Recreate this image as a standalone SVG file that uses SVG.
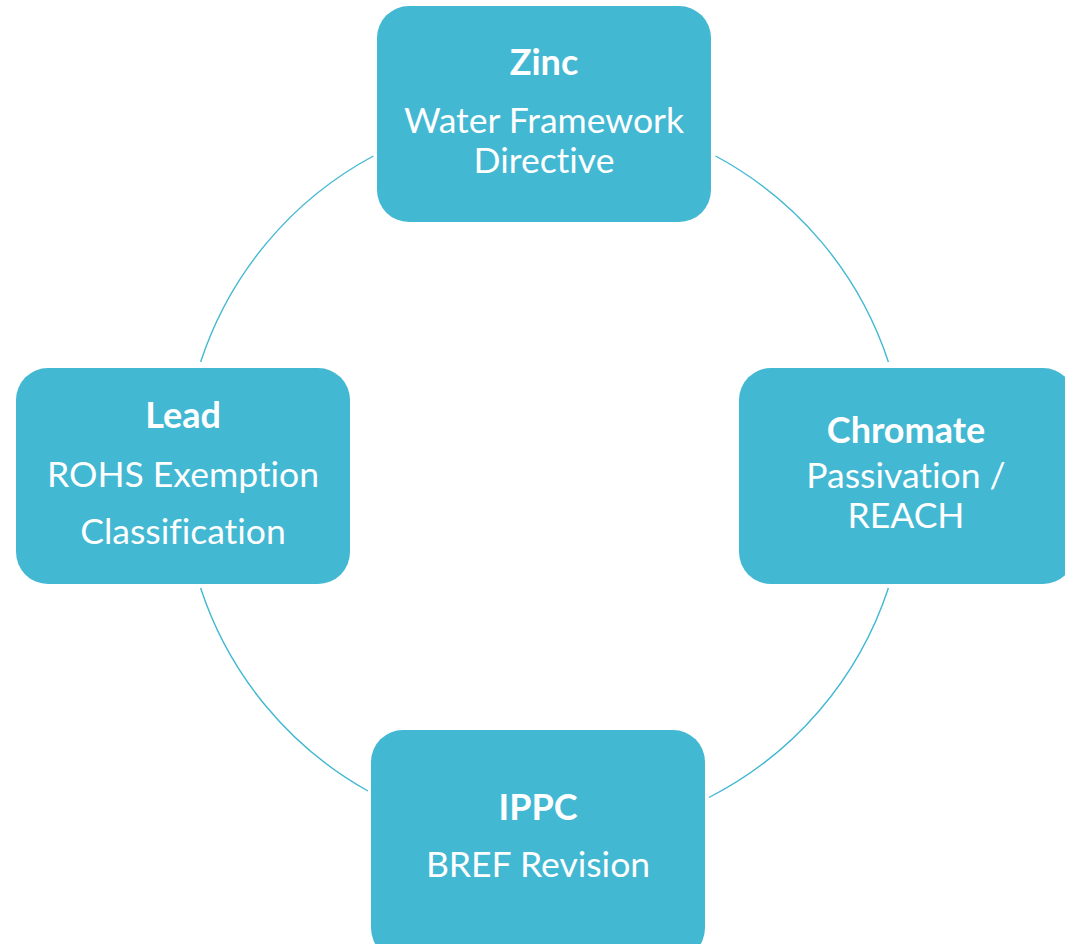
<svg xmlns="http://www.w3.org/2000/svg" width="1065" height="944" viewBox="0 0 1065 944">
<style>
.box{fill:#42B8D3}
.arc{fill:none;stroke:#42B8D3;stroke-width:1.4}
text{font-family:"Lato","Open Sans",sans-serif;fill:#FFFFFF;text-anchor:middle;font-variant-ligatures:none}
.t{font-weight:bold;font-size:36px}
.s{font-size:35.5px}
</style>
<rect width="1065" height="944" fill="#FFFFFF"/>
<g id="connectors">
<path class="arc" d="M715.6,156 A362,362 0 0 1 888.4,362"/>
<path class="arc" d="M888.4,588 A362,362 0 0 1 709,797.5"/>
<path class="arc" d="M368,791 A362,362 0 0 1 200.6,588"/>
<path class="arc" d="M200.6,362 A362,362 0 0 1 373.4,156"/>
</g>
<g id="zinc">
<rect class="box" x="377" y="6" width="334" height="216" rx="32"/>
<text class="t" x="544" y="75">Zinc</text>
<text class="s" x="544" y="133">Water Framework</text>
<text class="s" x="544" y="173">Directive</text>
</g>
<g id="chromate">
<rect class="box" x="739" y="368" width="336" height="216" rx="32"/>
<text class="t" x="906" y="443">Chromate</text>
<text class="s" x="906" y="488">Passivation /</text>
<text class="s" x="906" y="528">REACH</text>
</g>
<g id="ippc">
<rect class="box" x="371" y="730" width="334" height="230" rx="32"/>
<text class="t" x="538" y="820">IPPC</text>
<text class="s" x="538" y="877">BREF Revision</text>
</g>
<g id="lead">
<rect class="box" x="16" y="368" width="334" height="216" rx="32"/>
<text class="t" x="183" y="428">Lead</text>
<text class="s" x="183" y="487">ROHS Exemption</text>
<text class="s" x="183" y="544">Classification</text>
</g>
</svg>
